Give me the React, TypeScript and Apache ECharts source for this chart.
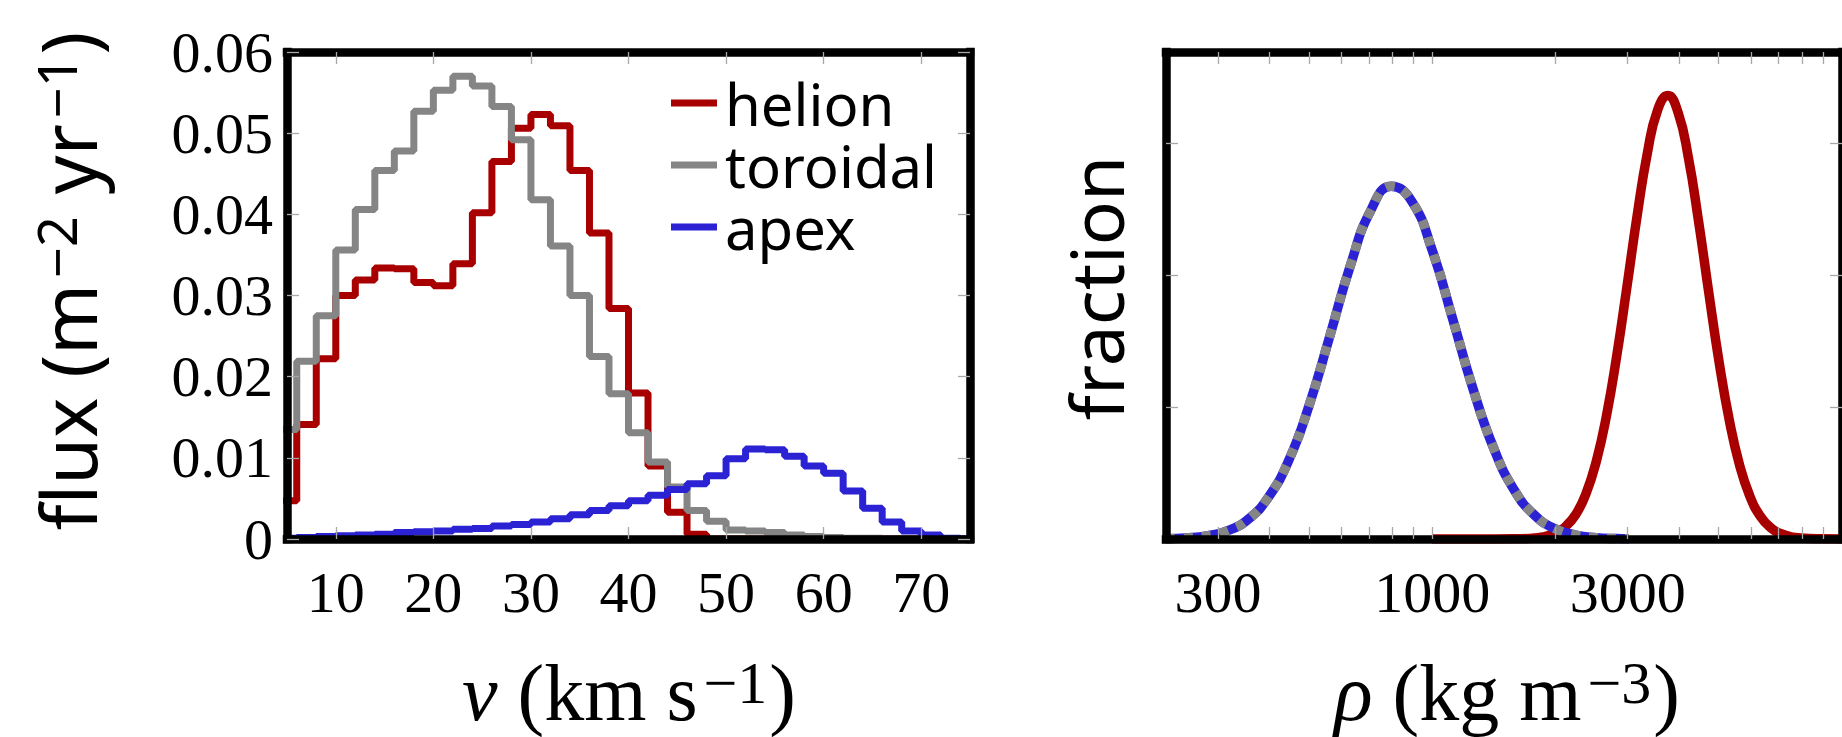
import React, { useEffect, useRef } from "react";
import * as echarts from "echarts";

// ---------- left panel: velocity histograms (bin left edges, width 2) ----------
const binLeft = [4, 6, 8, 10, 12, 14, 16, 18, 20, 22, 24, 26, 28, 30, 32, 34, 36, 38, 40, 42, 44, 46, 48, 50, 52, 54, 56, 58, 60, 62, 64, 66, 68, 70, 72, 74];
const binRightEnd = 76;
const helionFlux = [0.0047, 0.0141, 0.0222, 0.0300, 0.0319, 0.0334, 0.0333, 0.0316, 0.0312, 0.0339, 0.0402, 0.0465, 0.0506, 0.0523, 0.0509, 0.0454, 0.0377, 0.0284, 0.0180, 0.0090, 0.0033, 0.0006, 0, 0, 0, 0, 0, 0, 0, 0, 0, 0, 0, 0, 0, 0];
const toroidalFlux = [0.0135, 0.0219, 0.0275, 0.0356, 0.0406, 0.0454, 0.0478, 0.0527, 0.0553, 0.0570, 0.0558, 0.0533, 0.0492, 0.0418, 0.0361, 0.0300, 0.0225, 0.0179, 0.0131, 0.0095, 0.0064, 0.0035, 0.0022, 0.0011, 0.0010, 0.0008, 0.0005, 0.0003, 0.0002, 0.0001, 0.0001, 0, 0, 0, 0, 0];
const apexFlux = [0.0001, 0.0002, 0.0003, 0.0004, 0.0005, 0.0006, 0.0008, 0.0009, 0.0010, 0.0012, 0.0013, 0.0016, 0.0018, 0.0021, 0.0025, 0.0030, 0.0035, 0.0041, 0.0047, 0.0054, 0.0061, 0.0068, 0.0078, 0.0099, 0.0111, 0.0110, 0.0102, 0.0090, 0.0081, 0.0059, 0.0038, 0.0021, 0.0010, 0.0005, 0.0001, 0];
const vTicks = [10, 20, 30, 40, 50, 60, 70];
const fluxTicks = [0, 0.01, 0.02, 0.03, 0.04, 0.05, 0.06];

// ---------- right panel: density distributions ----------
const rhoApex = [224, 251, 282, 316, 355, 398, 447, 501, 562, 631, 708, 794, 891, 1000, 1122, 1259, 1413, 1585, 1778, 1995, 2239, 2512, 2818, 3020];
const fracApex = [0.000046, 0.000155, 0.000465, 0.00124, 0.00296, 0.00631, 0.01198, 0.02031, 0.03069, 0.0414, 0.0498, 0.05346, 0.05119, 0.04373, 0.03333, 0.02266, 0.01374, 0.00744, 0.00359, 0.00155, 0.000594, 0.000204, 0.000062, 0.000029];
const rhoToroidal = [224, 251, 282, 316, 355, 398, 447, 501, 562, 631, 708, 794, 891, 1000, 1122, 1259, 1413, 1585, 1778, 1995, 2239, 2512, 2818, 3020];
const fracToroidal = [0.000046, 0.000155, 0.000465, 0.00124, 0.00296, 0.00631, 0.01198, 0.02031, 0.03069, 0.0414, 0.0498, 0.05346, 0.05119, 0.04373, 0.03333, 0.02266, 0.01374, 0.00744, 0.00359, 0.00155, 0.000594, 0.000204, 0.000062, 0.000029];
const rhoHelion = [1000, 1122, 1259, 1413, 1585, 1778, 1995, 2113, 2239, 2371, 2512, 2661, 2818, 2985, 3162, 3350, 3548, 3758, 3981, 4217, 4467, 4732, 5012, 5309, 5623, 5957, 6310, 6683, 7079, 7943, 8913, 10000];
const fracHelion = [0, 0, 0, 0, 0.00002, 0.00016, 0.00088, 0.00187, 0.00369, 0.00681, 0.01168, 0.01862, 0.02763, 0.03813, 0.04896, 0.05849, 0.065, 0.0672, 0.06462, 0.05782, 0.04812, 0.03726, 0.02684, 0.01799, 0.01121, 0.0065, 0.00351, 0.00176, 0.00082, 0.00014, 0.00002, 0];
const rhoMin = 224;
const rhoMax = 10000;
const rhoLabels = [300, 1000, 3000];
const rhoTicks = [300, 400, 500, 600, 700, 800, 900, 1000, 2000, 3000, 4000, 5000, 6000, 7000, 8000, 9000];
const fracTicks = [0.02, 0.04, 0.06];

const RED = "#a80000";
const GRAY = "#858585";
const BLUE = "#2b22d4";
const SERIF = "'Liberation Serif', 'DejaVu Serif', serif";
const SANS = "'Noto Sans', 'DejaVu Sans', sans-serif";

const hist = (vals: number[]) => {
  const d = binLeft.map((x, i) => [x, vals[i]]);
  d.push([binRightEnd, vals[vals.length - 1]]);
  return d;
};
const lg = (r: number[], f: number[]) => r.map((x, i) => [Math.log10(x), f[i]]);

const App = () => {
  const ref = useRef<HTMLDivElement>(null);
  useEffect(() => {
    document.body.style.margin = "0";
    const chart = echarts.init(ref.current!, null, { renderer: "svg" });
    const frame = { show: true, onZero: false, lineStyle: { color: "#000", width: 8.5, cap: "square" } };
    const tick = (vals: number[]) => ({
      show: true,
      inside: true,
      length: 12,
      customValues: vals,
      lineStyle: { color: "#a8a8a8", width: 1.3 },
    });
    const noSplit = { show: false };
    const tickLabel = { fontFamily: SERIF, fontSize: 58, color: "#000" };
    const titleRich = {
      i: { fontFamily: SERIF, fontStyle: "italic", fontSize: 80, lineHeight: 80, verticalAlign: "bottom", fill: "#000" },
      a: { fontFamily: SERIF, fontSize: 80, lineHeight: 80, verticalAlign: "bottom", fill: "#000" },
      s: { fontFamily: SERIF, fontSize: 60, lineHeight: 60, verticalAlign: "top", padding: [0, 2, 42, 6], fill: "#000" },
    };

    const option: any = {
      animation: false,
      grid: [
        { left: 287, top: 52, width: 683, height: 487 },
        { left: 1166, top: 52, width: 682, height: 487 },
      ],
      xAxis: [
        {
          gridIndex: 0, type: "value", position: "bottom", min: 5, max: 75, z: 10,
          axisLine: frame, axisTick: tick(vTicks), splitLine: noSplit,
          axisLabel: { ...tickLabel, customValues: vTicks, margin: 24 },
        },
        {
          gridIndex: 0, type: "value", position: "top", min: 5, max: 75, z: 10,
          axisLine: frame, axisTick: tick(vTicks), splitLine: noSplit, axisLabel: { show: false },
        },
        {
          gridIndex: 1, type: "value", position: "bottom", min: Math.log10(rhoMin), max: Math.log10(rhoMax), z: 10,
          axisLine: frame, axisTick: tick(rhoTicks.map((v) => Math.log10(v))), splitLine: noSplit,
          axisLabel: {
            ...tickLabel, margin: 24,
            customValues: rhoLabels.map((v) => Math.log10(v)),
            formatter: (v: number) => String(Math.round(Math.pow(10, v))),
          },
        },
        {
          gridIndex: 1, type: "value", position: "top", min: Math.log10(rhoMin), max: Math.log10(rhoMax), z: 10,
          axisLine: frame, axisTick: tick(rhoTicks.map((v) => Math.log10(v))), splitLine: noSplit, axisLabel: { show: false },
        },
      ],
      yAxis: [
        {
          gridIndex: 0, type: "value", position: "left", min: 0, max: 0.06, z: 10,
          axisLine: frame, axisTick: tick(fluxTicks), splitLine: noSplit,
          axisLabel: {
            ...tickLabel, margin: 14, customValues: fluxTicks,
            formatter: (v: number) => (v === 0 ? "0" : v.toFixed(2)),
          },
        },
        {
          gridIndex: 0, type: "value", position: "right", min: 0, max: 0.06, z: 10,
          axisLine: frame, axisTick: tick(fluxTicks), splitLine: noSplit, axisLabel: { show: false },
        },
        {
          gridIndex: 1, type: "value", position: "left", min: 0, max: 0.0738, z: 10,
          axisLine: frame, axisTick: tick(fracTicks), splitLine: noSplit, axisLabel: { show: false },
        },
        {
          gridIndex: 1, type: "value", position: "right", min: 0, max: 0.0738, z: 10,
          axisLine: frame, axisTick: tick(fracTicks), splitLine: noSplit, axisLabel: { show: false },
        },
      ],
      legend: {
        data: [
          { name: "helion", icon: "rect" },
          { name: "toroidal", icon: "rect" },
          { name: "apex", icon: "rect" },
        ],
        orient: "vertical",
        left: 666,
        top: 69,
        itemWidth: 46,
        itemHeight: 7,
        itemGap: 4,
        selectedMode: false,
        textStyle: { fontFamily: SANS, fontSize: 58, color: "#000", lineHeight: 58, padding: [0, 0, 0, 3] },
      },
      series: [
        {
          name: "helion", type: "line", xAxisIndex: 0, yAxisIndex: 0, step: "end", symbol: "none",
          data: hist(helionFlux), lineStyle: { color: RED, width: 7 }, itemStyle: { color: RED },
        },
        {
          name: "toroidal", type: "line", xAxisIndex: 0, yAxisIndex: 0, step: "end", symbol: "none",
          data: hist(toroidalFlux), lineStyle: { color: GRAY, width: 7 }, itemStyle: { color: GRAY },
        },
        {
          name: "apex", type: "line", xAxisIndex: 0, yAxisIndex: 0, step: "end", symbol: "none",
          data: hist(apexFlux), lineStyle: { color: BLUE, width: 7 }, itemStyle: { color: BLUE },
        },
        {
          name: "helion", type: "line", xAxisIndex: 2, yAxisIndex: 2, symbol: "none", smooth: 0.5,
          data: lg(rhoHelion, fracHelion), lineStyle: { color: RED, width: 9.5 }, itemStyle: { color: RED },
        },
        {
          name: "apex", type: "line", xAxisIndex: 2, yAxisIndex: 2, symbol: "none", smooth: 0.5,
          data: lg(rhoApex, fracApex), lineStyle: { color: BLUE, width: 9.5 }, itemStyle: { color: BLUE },
        },
        {
          name: "toroidal", type: "line", xAxisIndex: 2, yAxisIndex: 2, symbol: "none", smooth: 0.5,
          data: lg(rhoToroidal, fracToroidal), lineStyle: { color: GRAY, width: 9.5, type: [9, 9] }, itemStyle: { color: GRAY },
        },
      ],
      graphic: [
        {
          type: "text", x: 67, y: 281, rotation: Math.PI / 2,
          style: {
            text: "{a|flux (m}{s|−2}{a| yr}{s|−1}{a|)}",
            align: "center", verticalAlign: "middle", textAlign: "center", textVerticalAlign: "middle",
            rich: {
              a: { fontFamily: SANS, fontSize: 76, lineHeight: 76, verticalAlign: "bottom", fill: "#000" },
              s: { fontFamily: SANS, fontSize: 54, lineHeight: 54, verticalAlign: "top", padding: [0, 2, 40, 6], fill: "#000" },
            },
          },
        },
        {
          type: "text", x: 1095, y: 288, rotation: Math.PI / 2,
          style: {
            text: "fraction", fontFamily: SANS, fontSize: 73, fill: "#000",
            align: "center", verticalAlign: "middle", textAlign: "center", textVerticalAlign: "middle",
          },
        },
        {
          type: "text", x: 629, y: 693,
          style: {
            text: "{i|v}{a| (km s}{s|−1}{a|)}",
            align: "center", verticalAlign: "middle", textAlign: "center", textVerticalAlign: "middle",
            rich: titleRich,
          },
        },
        {
          type: "text", x: 1507, y: 693,
          style: {
            text: "{i|ρ}{a| (kg m}{s|−3}{a|)}",
            align: "center", verticalAlign: "middle", textAlign: "center", textVerticalAlign: "middle",
            rich: titleRich,
          },
        },
      ],
    };
    chart.setOption(option);
    return () => chart.dispose();
  }, []);
  return <div ref={ref} style={{ width: 1842, height: 737 }} />;
};

export default App;
